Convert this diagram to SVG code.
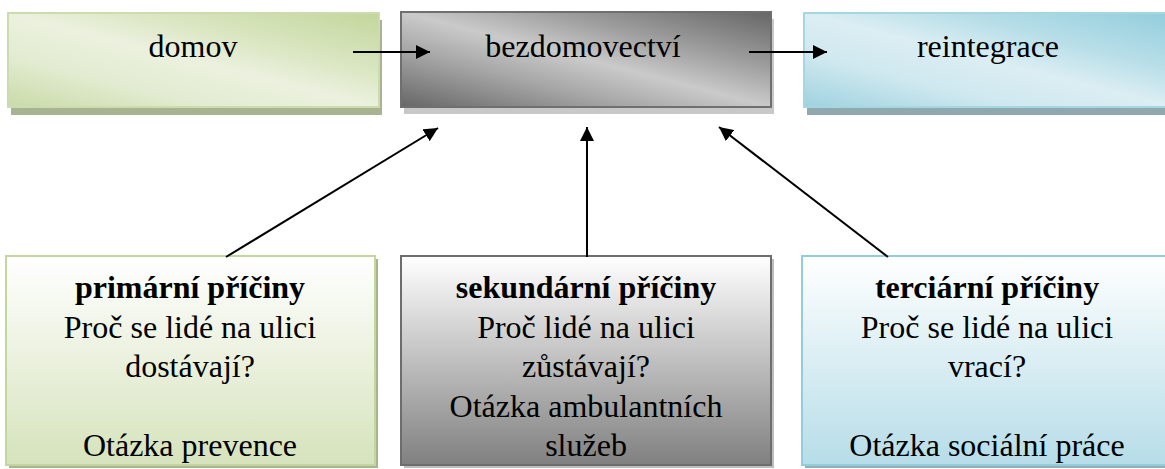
<svg xmlns="http://www.w3.org/2000/svg" width="1165" height="469" viewBox="0 0 1165 469">
<defs>
<linearGradient id="gTopGreen" x1="1" y1="0" x2="0" y2="1">
<stop offset="0" stop-color="#c3d69b"/><stop offset="0.3" stop-color="#d9e5c0"/><stop offset="0.5" stop-color="#ebf1de"/><stop offset="0.72" stop-color="#e3ecd2"/><stop offset="1" stop-color="#cadaa8"/>
</linearGradient>
<linearGradient id="gTopGrey" x1="1" y1="0" x2="0" y2="1">
<stop offset="0" stop-color="#666666"/><stop offset="0.3" stop-color="#9f9f9f"/><stop offset="0.5" stop-color="#cacaca"/><stop offset="0.7" stop-color="#a5a5a5"/><stop offset="1" stop-color="#666666"/>
</linearGradient>
<linearGradient id="gTopBlue" x1="1" y1="0" x2="0" y2="1">
<stop offset="0" stop-color="#92cddc"/><stop offset="0.3" stop-color="#b8dee8"/><stop offset="0.5" stop-color="#dbeef3"/><stop offset="0.72" stop-color="#cfe8ef"/><stop offset="1" stop-color="#9ed2df"/>
</linearGradient>
<linearGradient id="gBotGreen" x1="0" y1="0" x2="0" y2="1">
<stop offset="0" stop-color="#ffffff"/><stop offset="1" stop-color="#d6e3bc"/>
</linearGradient>
<linearGradient id="gBotGrey" x1="0" y1="0" x2="0" y2="1">
<stop offset="0" stop-color="#ffffff"/><stop offset="1" stop-color="#808080"/>
</linearGradient>
<linearGradient id="gBotBlue" x1="0" y1="0" x2="0" y2="1">
<stop offset="0" stop-color="#ffffff"/><stop offset="1" stop-color="#b6dde8"/>
</linearGradient>
<marker id="arr" viewBox="0 0 10 10" refX="10" refY="5" markerWidth="7" markerHeight="7" markerUnits="strokeWidth" orient="auto">
<path d="M0,0 L10,5 L0,10 z" fill="#000"/>
</marker>
<style>
text{font-family:"Liberation Serif","Times New Roman",serif;font-size:32px;fill:#000;text-anchor:middle}
.b{font-weight:bold}
.conn line{stroke:#000;stroke-width:2;marker-end:url(#arr)}
.box{stroke-width:2}
</style>
</defs>
<g id="node-domov">
<rect x="11" y="20" width="371" height="95" fill="#a8b391"/>
<rect class="box" x="8" y="13" width="371" height="94" fill="url(#gTopGreen)" stroke="#cddcaf"/>
<text x="193" y="57">domov</text>
</g>
<g id="node-bezdomovectvi">
<rect x="404" y="19" width="370" height="95" fill="#c8c8c8"/>
<rect class="box" x="401" y="12" width="370" height="95" fill="url(#gTopGrey)" stroke="#6f6f6f"/>
<text x="583" y="57">bezdomovectví</text>
</g>
<g id="node-reintegrace">
<rect x="807" y="20" width="371" height="95" fill="#90a9ae"/>
<rect class="box" x="804" y="13" width="371" height="94" fill="url(#gTopBlue)" stroke="#a5d6e2"/>
<text x="988" y="57">reintegrace</text>
</g>
<g id="node-primarni">
<rect x="9" y="259" width="369" height="209" fill="#a9b493"/>
<rect class="box" x="6" y="256" width="369" height="209" fill="url(#gBotGreen)" stroke="#c3d69b"/>
<text x="190" y="298"><tspan class="b">primární příčiny</tspan><tspan x="190" dy="39.5">Proč se lidé na ulici</tspan><tspan x="190" dy="39.5">dostávají?</tspan><tspan x="190" dy="79">Otázka prevence</tspan></text>
</g>
<g id="node-sekundarni">
<rect x="404" y="259" width="370" height="209" fill="#bdbdbd"/>
<rect class="box" x="401" y="256" width="370" height="209" fill="url(#gBotGrey)" stroke="#6d6d6d"/>
<text x="586" y="298"><tspan class="b">sekundární příčiny</tspan><tspan x="586" dy="39.5">Proč lidé na ulici</tspan><tspan x="586" dy="39.5">zůstávají?</tspan><tspan x="586" dy="39.5">Otázka ambulantních</tspan><tspan x="586" dy="39.5">služeb</tspan></text>
</g>
<g id="node-terciarni">
<rect x="805" y="259" width="370" height="209" fill="#91b1b9"/>
<rect class="box" x="802" y="256" width="370" height="209" fill="url(#gBotBlue)" stroke="#93cddd"/>
<text x="987" y="298"><tspan class="b">terciární příčiny</tspan><tspan x="987" dy="39.5">Proč se lidé na ulici</tspan><tspan x="987" dy="39.5">vrací?</tspan><tspan x="987" dy="79">Otázka sociální práce</tspan></text>
</g>
<g id="connectors" class="conn">
<line x1="353" y1="52" x2="430" y2="52"/>
<line x1="749" y1="52" x2="827" y2="52"/>
<line x1="226" y1="257" x2="438" y2="128"/>
<line x1="587" y1="257" x2="587" y2="127"/>
<line x1="888" y1="257" x2="719" y2="127"/>
</g>
</svg>
